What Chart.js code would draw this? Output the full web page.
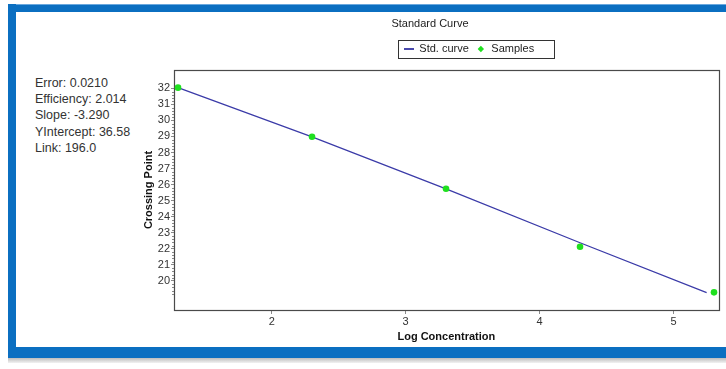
<!DOCTYPE html>
<html><head><meta charset="utf-8">
<script src="https://cdn.jsdelivr.net/npm/chart.js@4.4.1/dist/chart.umd.min.js"></script>
<style>
html,body{margin:0;padding:0;background:#fff;width:726px;height:369px;overflow:hidden;font-family:'Liberation Sans',Arial,sans-serif;}
#wrap{position:relative;width:726px;height:369px;background:#fff;}
.band{position:absolute;background:#0b6fc1;}
#bTop{left:8px;top:4px;width:718px;height:7px;border-top:1px solid #6aa8de;}
#bLeft{left:8px;top:4px;width:8px;height:354px;}
#bBottom{left:8px;top:347px;width:718px;height:11px;}
#shadow{position:absolute;left:8px;top:358px;width:718px;height:5px;background:linear-gradient(#bdbdbd,#f2f2f2);}
#stats{position:absolute;left:35px;top:74.5px;font-size:12.5px;line-height:16.4px;color:#333;white-space:pre;}
#c{position:absolute;left:0;top:0;}
</style></head>
<body><div id="wrap">
<div class="band" id="bTop"></div><div class="band" id="bLeft"></div><div class="band" id="bBottom"></div><div id="shadow"></div>
<div id="stats"></div>
<canvas id="c" width="726" height="369"></canvas>
</div>
<script>
// ---- data ----
const chartTitle = 'Standard Curve';
const seriesNames = ['Std. curve', 'Samples'];
const xTitle = 'Log Concentration';
const yTitle = 'Crossing Point';
const statsLines = ['Error: 0.0210', 'Efficiency: 2.014', 'Slope: -3.290', 'YIntercept: 36.58', 'Link: 196.0'];
const xCurve = [1.301, 2.301, 3.301, 4.301, 5.246];
const yCurve = [32.04, 28.98, 25.74, 22.38, 19.27];
const xSamples = [1.301, 2.301, 3.301, 4.301, 5.301];
const ySamples = [32.04, 28.98, 25.74, 22.13, 19.29];
const xTicks = [2, 3, 4, 5];
const yTicks = [20, 21, 22, 23, 24, 25, 26, 27, 28, 29, 30, 31, 32];
const xRange = [1.271, 5.336];
const yRange = [18.19, 33.14];
const yMinorRange = [19.2, 32];
const yMinorStep = 0.2;

// ---- styles ----
const FONT = "'Liberation Sans', Arial, sans-serif";
const CURVE_COLOR = '#3b3ba8';
const SAMPLE_COLOR = '#1fe01f';

document.getElementById('stats').textContent = statsLines.join('\n');

const lineImg = document.createElement('canvas');
lineImg.width = 10; lineImg.height = 2;
{ const g = lineImg.getContext('2d'); g.fillStyle = '#4848ac'; g.fillRect(0, 0, 10, 2); }

const shiftBlocks = {
  id: 'shiftBlocks',
  afterLayout(chart) {
    const t = chart.titleBlock;
    if (t) { t.left = 430 - 150; t.right = 430 + 150; t.width = 300; }
    const l = chart.legend;
    if (l) { l.left = 469 - 150; l.right = 469 + 150; l.width = 300; }
  }
};

const frame = {
  id: 'frame',
  beforeDatasetsDraw(chart) {
    const {ctx, chartArea: a, scales} = chart;
    const y = scales.y;
    ctx.save();
    ctx.strokeStyle = '#8a8a8a';
    ctx.lineWidth = 1;
    ctx.beginPath();
    const steps = Math.round((yMinorRange[1] - yMinorRange[0]) / yMinorStep);
    for (let i = 0; i <= steps; i++) {
      const v = yMinorRange[0] + i * yMinorStep;
      if (Math.abs(v - Math.round(v)) < 1e-6) continue;
      const py = Math.round(y.getPixelForValue(v)) + 0.5;
      ctx.moveTo(a.left - 2, py); ctx.lineTo(a.left, py);
    }
    ctx.stroke();
    ctx.strokeStyle = '#4a4a4a';
    ctx.lineWidth = 1.2;
    ctx.strokeRect(Math.round(a.left) + 0.5, Math.round(a.top) + 0.5, Math.round(a.right - a.left), Math.round(a.bottom - a.top));
    ctx.restore();
  },
  afterDraw(chart) {
    const l = chart.legend;
    if (!l || !l.legendHitBoxes || !l.legendHitBoxes.length) return;
    const hb = l.legendHitBoxes;
    const left = Math.min(...hb.map(h => h.left)) - 6;
    const right = Math.max(...hb.map(h => h.left + h.width)) + 20;
    const top = Math.min(...hb.map(h => h.top)) - 3.5;
    const ctx = chart.ctx;
    ctx.save();
    ctx.strokeStyle = '#333';
    ctx.lineWidth = 1;
    ctx.strokeRect(Math.round(left) + 0.5, Math.round(top) + 0.5, Math.round(right - left), 18);
    ctx.restore();
  }
};

new Chart(document.getElementById('c'), {
  type: 'scatter',
  data: {
    datasets: [
      {
        label: seriesNames[0],
        data: xCurve.map((x, i) => ({x, y: yCurve[i]})),
        showLine: true,
        borderColor: CURVE_COLOR,
        backgroundColor: CURVE_COLOR,
        borderWidth: 1.3,
        pointRadius: 0,
        order: 1
      },
      {
        label: seriesNames[1],
        data: xSamples.map((x, i) => ({x, y: ySamples[i]})),
        backgroundColor: SAMPLE_COLOR,
        borderColor: SAMPLE_COLOR,
        borderWidth: 0,
        pointRadius: 3.3,
        order: 0
      }
    ]
  },
  options: {
    responsive: false,
    animation: false,
    devicePixelRatio: 1,
    layout: {padding: {top: 10, left: 142.5, right: 7.3, bottom: 25.7}},
    plugins: {
      tooltip: {enabled: false},
      title: {
        display: true, text: chartTitle, color: '#222',
        font: {family: FONT, size: 11, weight: 'normal'},
        padding: {top: 7.4, bottom: 5.9}
      },
      legend: {
        display: true, position: 'top',
        labels: {
          color: '#222',
          font: {family: FONT, size: 11},
          usePointStyle: true,
          boxWidth: 10,
          boxHeight: 4.5,
          padding: 7,
          sort: (a, b) => a.datasetIndex - b.datasetIndex,
          generateLabels(chart) {
            const items = Chart.defaults.plugins.legend.labels.generateLabels(chart);
            items.forEach(it => {
              if (it.datasetIndex === 0) { it.pointStyle = lineImg; }
              else { it.pointStyle = 'rectRot'; it.fillStyle = SAMPLE_COLOR; it.strokeStyle = SAMPLE_COLOR; it.lineWidth = 0; }
            });
            return items.sort((a, b) => a.datasetIndex - b.datasetIndex);
          }
        }
      }
    },
    scales: {
      x: {
        type: 'linear', position: 'bottom',
        min: xRange[0], max: xRange[1],
        afterBuildTicks(s) { s.ticks = xTicks.map(v => ({value: v})); },
        afterFit(s) { s.height = 33.3; },
        ticks: {color: '#333', font: {family: FONT, size: 11}, padding: 1, maxRotation: 0, autoSkip: false},
        grid: {drawOnChartArea: false, drawTicks: true, tickLength: 4, color: '#8a8a8a'},
        border: {display: false},
        title: {display: true, text: xTitle, color: '#111', font: {family: FONT, size: 11, weight: 'bold'}, padding: 0}
      },
      xTop: {
        type: 'linear', position: 'top', axis: 'x',
        afterFit(s) { s.height = 5.5; },
        ticks: {display: false},
        grid: {display: false},
        border: {display: false}
      },
      y: {
        type: 'linear', position: 'left',
        min: yRange[0], max: yRange[1],
        afterBuildTicks(s) { s.ticks = yTicks.map(v => ({value: v})); },
        afterFit(s) { s.width = 31.5; },
        ticks: {color: '#333', font: {family: FONT, size: 11}, padding: 1, autoSkip: false},
        grid: {drawOnChartArea: false, drawTicks: true, tickLength: 3, color: '#8a8a8a'},
        border: {display: false},
        title: {display: true, text: yTitle, color: '#111', font: {family: FONT, size: 11, weight: 'bold'}, padding: 0}
      }
    }
  },
  plugins: [shiftBlocks, frame]
});
</script>
</body></html>
